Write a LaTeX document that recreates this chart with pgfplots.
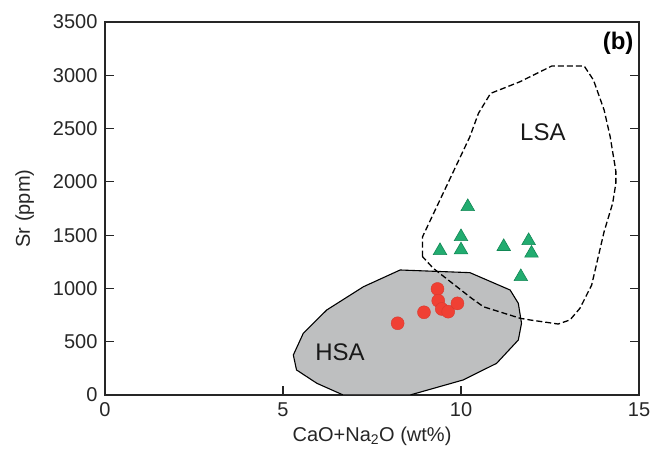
\documentclass[border=0pt]{standalone}
\usepackage{fontspec}
\setmainfont{Liberation Sans}
\usepackage{pgfplots}
\pgfplotsset{compat=1.18}
\definecolor{hsagray}{RGB}{190,191,192}
\definecolor{redpt}{RGB}{240,64,52}
\definecolor{greenpt}{RGB}{34,172,112}
\definecolor{greenedge}{RGB}{18,135,85}
\begin{document}
\begin{tikzpicture}
\begin{axis}[name=ax, scale only axis, width=534pt, height=373pt,
  xmin=0, xmax=15, ymin=0, ymax=3500,
  xtick={0,5,10,15}, ytick={0,500,...,3500},
  tick align=inside, major tick length=9pt,
  xtick pos=left, ytick pos=both,
  axis line style={line width=1.2pt, black!85},
  every tick/.style={line width=1.1pt, black!85},
  tick label style={font=\fontsize{20}{20}\selectfont, text=black!85},
  /pgf/number format/assume math mode=true,
  /pgf/number format/1000 sep={},
  xticklabel style={yshift=-4pt},
  yticklabel style={xshift=-4pt},
  xlabel={CaO+Na\textsubscript{2}O (wt\%)},
  ylabel={Sr (ppm)},
  label style={font=\fontsize{20}{20}\selectfont, text=black!85},
  xlabel style={yshift=-3pt},
  ylabel style={yshift=12pt},
]
% HSA field
\addplot[fill=hsagray, draw=black, line width=1.1pt] coordinates {
 (8.29,1173) (10.25,1148) (11.38,985) (11.61,860) (11.70,673) (11.61,516)
 (11.0,297) (10.06,141) (8.57,0) (6.69,0) (5.95,110) (5.38,235) (5.29,375)
 (5.57,579) (6.23,798) (7.26,1016)} -- cycle;
% LSA field
\addplot[draw=black, line width=1.3pt, dash pattern=on 6pt off 3pt] coordinates {
 (8.92,1298) (8.92,1485) (10.25,2424) (10.49,2643) (10.83,2830) (11.66,2940)
 (12.55,3087) (13.46,3087) (13.72,2956) (14.02,2674) (14.19,2424) (14.35,2100)
 (14.35,1986) (14.26,1799) (14.02,1533) (13.67,1032) (13.34,813) (13.06,704)
 (12.73,666) (11.94,704) (11.66,720) (10.63,828) (10.30,907) (9.22,1189)} -- cycle;
% HSA samples
\addplot[only marks, mark=*, mark size=6.5pt, mark options={fill=redpt, draw=redpt!90!black, line width=0.4pt}] coordinates {
 (8.22,673) (8.96,776) (9.34,995) (9.36,885) (9.46,807) (9.64,782) (9.90,860)};
% LSA samples
\addplot[only marks, mark=triangle*, mark size=7.8pt, mark options={fill=greenpt, draw=greenedge, line width=0.6pt}] coordinates {
 (10.19,1767) (10.0,1485) (9.41,1354) (10.0,1361) (11.2,1392) (11.9,1448) (11.98,1330) (11.68,1110)};
\node[font=\fontsize{24}{24}\selectfont, text=black!90] at (axis cs:6.6,403) {HSA};
\node[font=\fontsize{24}{24}\selectfont, text=black!90] at (axis cs:12.3,2468) {LSA};
\node[font=\fontsize{24}{24}\selectfont\bfseries, anchor=north east, inner sep=0pt] at (axis cs:14.85,3410) {(b)};
\end{axis}
\pgfresetboundingbox
\path ([xshift=-105pt,yshift=-58pt]ax.south west) rectangle ([xshift=14pt,yshift=22pt]ax.north east);
\end{tikzpicture}
\end{document}
